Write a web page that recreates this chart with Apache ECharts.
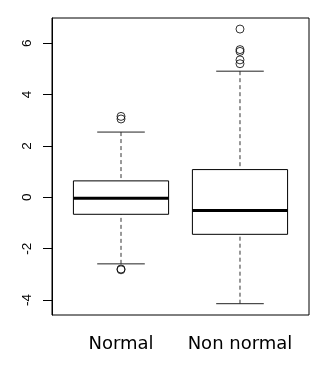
<!DOCTYPE html>
<html><head><meta charset="utf-8">
<script src="https://cdn.jsdelivr.net/npm/echarts@6/dist/echarts.min.js"></script>
<style>html,body{margin:0;padding:0;background:#fff}#c{width:332px;height:377px}</style>
</head><body><div id="c"></div>
<script>
var categories = ['Normal', 'Non normal'];
var lowerWhisker = [-2.59, -4.14];
var q1 = [-0.66, -1.44];
var median = [-0.04, -0.51];
var q3 = [0.64, 1.08];
var upperWhisker = [2.54, 4.91];
var outliers = [[3.05, 3.15, -2.79, -2.82], [6.55, 5.75, 5.68, 5.35, 5.2]];
var yTicks = [-4, -2, 0, 2, 4, 6];

var boxData = categories.map(function (c, i) {
  return [i + 1, lowerWhisker[i], q1[i], median[i], q3[i], upperWhisker[i]];
});
var outlierData = [];
outliers.forEach(function (arr, i) { arr.forEach(function (v) { outlierData.push([i + 1, v]); }); });

var chart = echarts.init(document.getElementById('c'), null, {renderer: 'canvas'});
chart.setOption({
  animation: false,
  grid: {left: 52, top: 18, width: 257, height: 297, show: true, borderColor: '#000', borderWidth: 1, backgroundColor: 'transparent'},
  xAxis: {
    type: 'value', min: 0.42, max: 2.58,
    splitLine: {show: false},
    axisLine: {show: false},
    axisTick: {show: true, customValues: [1, 2], length: 9, lineStyle: {color: '#000'}},
    axisLabel: {show: true, customValues: [1, 2], margin: 20, fontSize: 18, color: '#000', fontFamily: 'DejaVu Sans',
      formatter: function (v) { return categories[Math.round(v) - 1]; }}
  },
  yAxis: {
    type: 'value', min: -4.58, max: 6.98,
    splitLine: {show: false},
    axisLine: {show: true, lineStyle: {color: '#000'}},
    axisTick: {show: true, customValues: yTicks, length: 9, lineStyle: {color: '#000'}},
    axisLabel: {show: true, customValues: yTicks, rotate: 90, margin: 18, fontSize: 13.5, color: '#000', fontFamily: 'Liberation Sans'}
  },
  series: [{
    type: 'custom',
    data: boxData,
    encode: {x: 0, y: [1, 2, 3, 4, 5]},
    renderItem: function (params, api) {
      var x = api.value(0);
      var halfW = 0.4, capW = 0.2;
      function p(xv, yv) { return api.coord([xv, yv]); }
      var lo = p(x, api.value(1)), b1 = p(x, api.value(2)), md = p(x, api.value(3)), b3 = p(x, api.value(4)), hi = p(x, api.value(5));
      var left = p(x - halfW, 0)[0], right = p(x + halfW, 0)[0];
      var cl = p(x - capW, 0)[0], cr = p(x + capW, 0)[0];
      return {type: 'group', children: [
        {type: 'line', shape: {x1: lo[0], y1: lo[1], x2: b1[0], y2: b1[1]}, style: {stroke: '#333', lineWidth: 1, lineDash: [4, 3]}},
        {type: 'line', shape: {x1: hi[0], y1: hi[1], x2: b3[0], y2: b3[1]}, style: {stroke: '#333', lineWidth: 1, lineDash: [4, 3]}},
        {type: 'line', shape: {x1: cl, y1: lo[1], x2: cr, y2: lo[1]}, style: {stroke: '#222', lineWidth: 1}},
        {type: 'line', shape: {x1: cl, y1: hi[1], x2: cr, y2: hi[1]}, style: {stroke: '#222', lineWidth: 1}},
        {type: 'rect', shape: {x: left, y: b3[1], width: right - left, height: b1[1] - b3[1]}, style: {fill: '#fff', stroke: '#000', lineWidth: 1}},
        {type: 'line', shape: {x1: left, y1: md[1], x2: right, y2: md[1]}, style: {stroke: '#000', lineWidth: 3}}
      ]};
    }
  }, {
    type: 'scatter',
    data: outlierData,
    symbol: 'circle',
    symbolSize: 8,
    itemStyle: {color: 'transparent', borderColor: '#000', borderWidth: 1}
  }]
});
</script>
</body></html>
